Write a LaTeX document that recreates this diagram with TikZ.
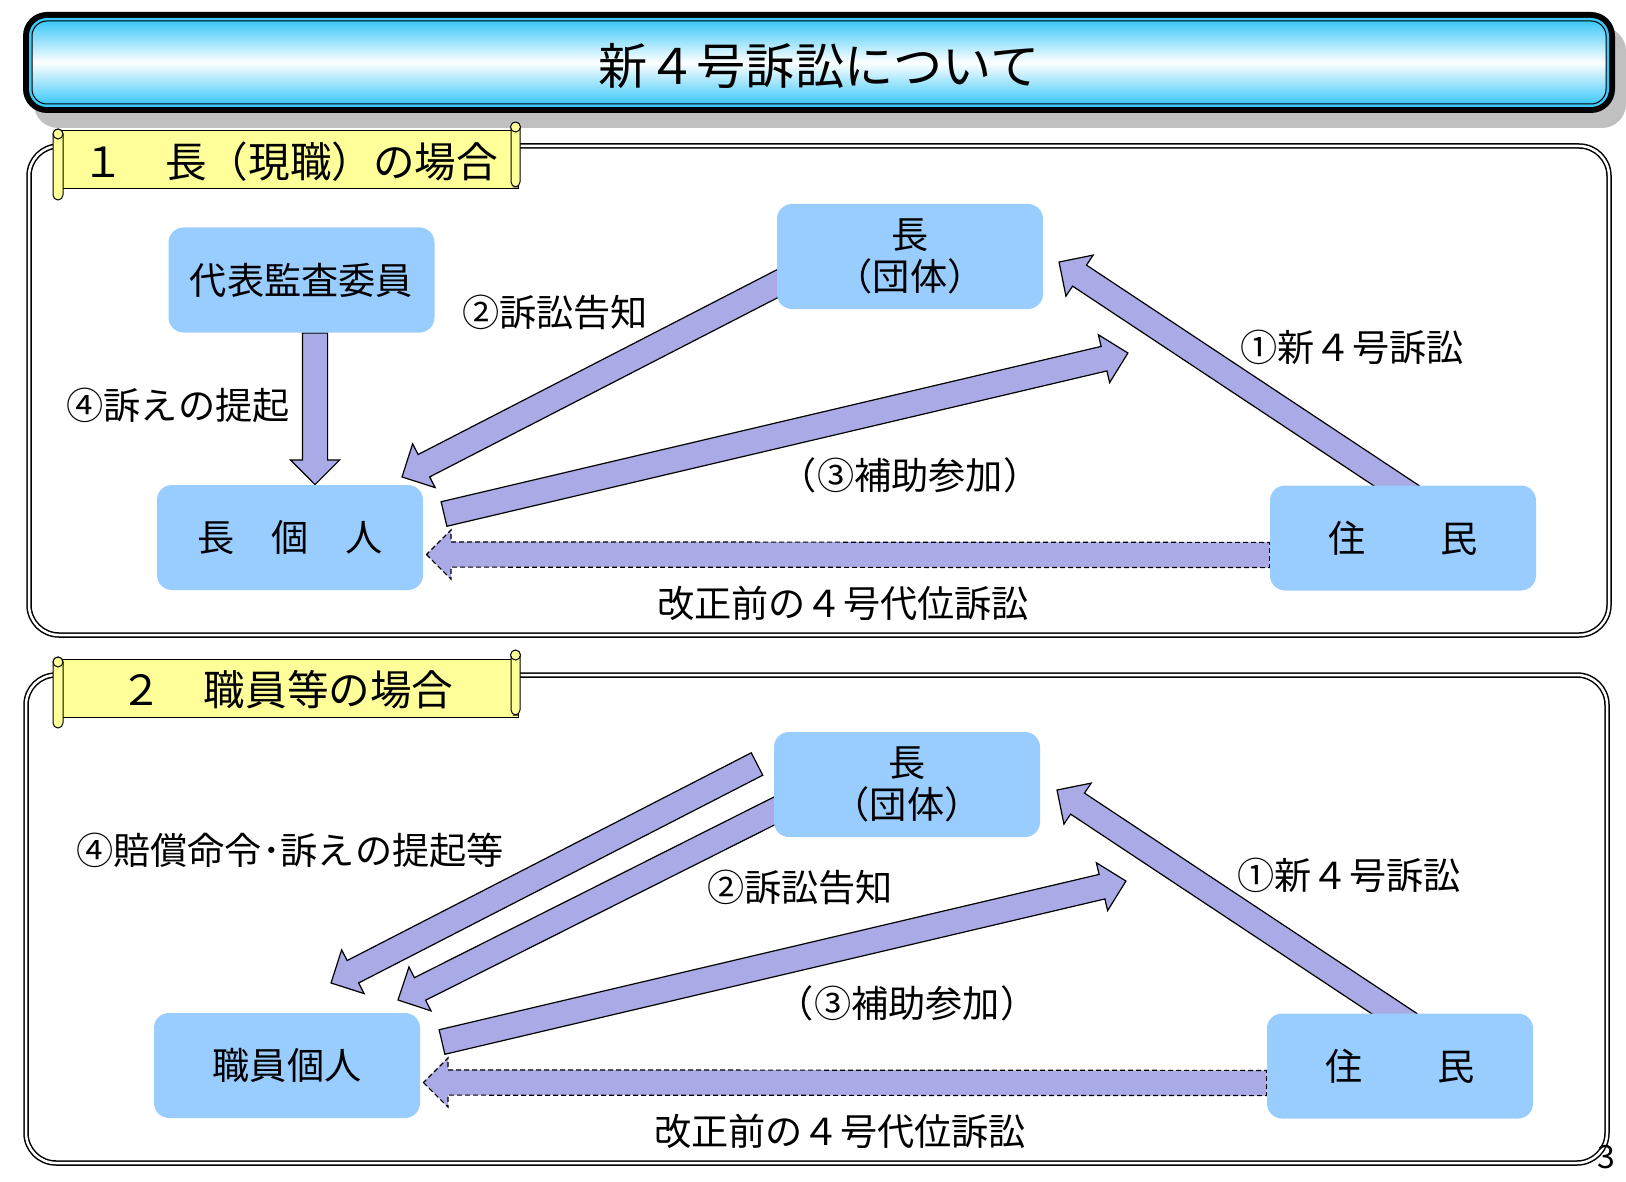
\documentclass[tikz,border=0pt]{standalone}
\usepackage{fontspec}
\setmainfont{Noto Sans CJK JP}
\usepackage{xcolor}
\usepackage{tikz}
\usetikzlibrary{shapes,arrows,positioning,calc,arrows.meta,shapes.arrows}
\pgfdeclarelayer{background}
\pgfsetlayers{background,main}
\definecolor{boxBlue}{RGB}{153,204,255}
\definecolor{arrowViolet}{RGB}{170,170,230}
\definecolor{titleCyan}{RGB}{60,200,248}
\definecolor{scrollYellow}{RGB}{255,255,153}
\definecolor{shadowGray}{RGB}{192,192,192}
\newcommand{\labelFont}{\fontsize{18.6pt}{21pt}\selectfont}
\newcommand{\titleFont}{\fontsize{24.6pt}{26pt}\selectfont}
\newcommand{\bannerFont}{\fontsize{20.8pt}{22pt}\selectfont}
% block arrow from one named point to another
\newcommand{\blockArrow}[3][]{%
  \path let \p1=($(#3)-(#2)$), \n1={atan2(\y1,\x1)}, \n2={veclen(\x1,\y1)} in
    (#2) node[flowArrow, rotate=\n1, minimum height=\n2, anchor=tail, #1] {};%
}
\tikzset{
  actorBox/.style={
    rectangle,
    rounded corners=7.5pt,
    fill=boxBlue,
    minimum width=133pt,
    minimum height=52.5pt,
    inner sep=0pt,
    align=center,
    font=\labelFont
  },
  caseLabel/.style={
    font=\labelFont,
    inner sep=0pt
  },
  flowArrow/.style={
    single arrow,
    draw=black,
    line width=0.6pt,
    fill=arrowViolet,
    inner xsep=0pt,
    inner ysep=6pt,
    outer sep=0pt,
    single arrow head extend=6pt,
    single arrow tip angle=90,
    minimum width=0pt
  },
  oldArrow/.style={
    dash pattern=on 2.5pt off 1.5pt
  },
  caseFrame/.style={
    draw=black,
    double=white,
    line width=0.75pt,
    double distance=1.25pt,
    rounded corners=15pt
  },
  scrollPaper/.style={
    draw=black,
    line width=0.5pt,
    fill=scrollYellow
  }
}

\begin{document}
\begin{tikzpicture}[x=0.5pt,y=-0.5pt]
  \useasboundingbox (0,0) rectangle (1626,1182);

  % title bar
  \fill[shadowGray, rounded corners=12pt] (34,27) rectangle (1626,128);
  \fill[black, rounded corners=12pt] (23,12) rectangle (1615,113);
  \fill[titleCyan, rounded corners=9pt] (29,18) rectangle (1609,107);
  \shade[top color=titleCyan, bottom color=titleCyan, middle color=white,
    draw=black, line width=0.5pt, rounded corners=7.5pt] (32,21) rectangle (1606,104);
  \node[font=\titleFont, inner sep=0pt] (title) at (819,66) {新４号訴訟について};

  % banners
  \foreach \dy/\txt/\cx in {0/{１　長（現職）の場合}/290, 528/{２　職員等の場合}/287} {
    \begin{scope}[yshift=-\dy*0.5pt]
      \draw[scrollPaper] (61,131) rectangle (518,189);
      \draw[scrollPaper, rounded corners=2.5pt] (53,129) rectangle (63,200);
      \draw[scrollPaper] (58,134) circle (2.5pt);
      \draw[scrollPaper, rounded corners=2.5pt] (511,123) rectangle (520,187);
      \draw[scrollPaper] (515.5,127) circle (2.5pt);
      \node[font=\bannerFont, inner sep=0pt] at (\cx,162) {\txt};
    \end{scope}
  }

  % case 1
  \node[actorBox] (audit) at (301.5,280) {代表監査委員};
  \node[actorBox] (headOrg) at (910,256.5) {長\\（団体）};
  \node[actorBox] (headSelf) at (290,537.5) {長　個　人};
  \node[actorBox] (resident) at (1403,538) {住　　民};

  \node[caseLabel] (noticeA) at (555,312) {②訴訟告知};
  \node[caseLabel] (suitA) at (178,405) {④訴えの提起};
  \node[caseLabel] (newSuitA) at (1352,347) {①新４号訴訟};
  \node[caseLabel] (joinA) at (910,475) {（③補助参加）};
  \node[caseLabel] (oldSuitA) at (843,603) {改正前の４号代位訴訟};

  \coordinate (fourAs) at ($(audit.south)+(13.5,0)$);
  \coordinate (fourAe) at (fourAs |- headSelf.north);
  \coordinate (twoAs) at (800,272);
  \coordinate (twoAe) at (402,477);
  \coordinate (threeAs) at (444,514);
  \coordinate (threeAe) at (1128,353);
  \coordinate (oneAs) at (1412,496);
  \coordinate (oneAe) at (1059,262);
  \coordinate (oldAs) at ($(resident.west)+(0,17)$);
  \coordinate (oldAe) at ($(headSelf.east)+(3,17)$);

  % case 2
  \node[actorBox] (headOrgB) at (907,784.5) {長\\（団体）};
  \node[actorBox] (staff) at (287,1065.5) {職員個人};
  \node[actorBox] (residentB) at (1400,1066) {住　　民};

  \node[caseLabel] (orderB) at (290,850) {④賠償命令･訴えの提起等};
  \node[caseLabel] (noticeB) at (800,887) {②訴訟告知};
  \node[caseLabel] (newSuitB) at (1349,875) {①新４号訴訟};
  \node[caseLabel] (joinB) at (907,1003) {（③補助参加）};
  \node[caseLabel] (oldSuitB) at (840,1131) {改正前の４号代位訴訟};

  \coordinate (fourBs) at (757,764);
  \coordinate (fourBe) at (331,983);
  \coordinate (twoBs) at (798,799);
  \coordinate (twoBe) at (398,1000);
  \coordinate (threeBs) at (442,1042);
  \coordinate (threeBe) at (1126,881);
  \coordinate (oneBs) at (1410,1024);
  \coordinate (oneBe) at (1057,790);
  \coordinate (oldBs) at ($(residentB.west)+(0,17)$);
  \coordinate (oldBe) at ($(staff.east)+(3,17)$);

  \node[inner sep=0pt, font=\fontsize{16pt}{16pt}\selectfont] (pageNo) at (1606,1157) {3};

  \begin{pgfonlayer}{background}
    \draw[caseFrame] (29,146) rectangle (1609,635);
    \draw[caseFrame] (26,675) rectangle (1607,1163);

    \blockArrow{fourAs}{fourAe}
    \blockArrow{twoAs}{twoAe}
    \blockArrow{threeAs}{threeAe}
    \blockArrow{oneAs}{oneAe}
    \blockArrow[oldArrow]{oldAs}{oldAe}

    \blockArrow{fourBs}{fourBe}
    \blockArrow{twoBs}{twoBe}
    \blockArrow{threeBs}{threeBe}
    \blockArrow{oneBs}{oneBe}
    \blockArrow[oldArrow]{oldBs}{oldBe}
  \end{pgfonlayer}
\end{tikzpicture}
\end{document}
